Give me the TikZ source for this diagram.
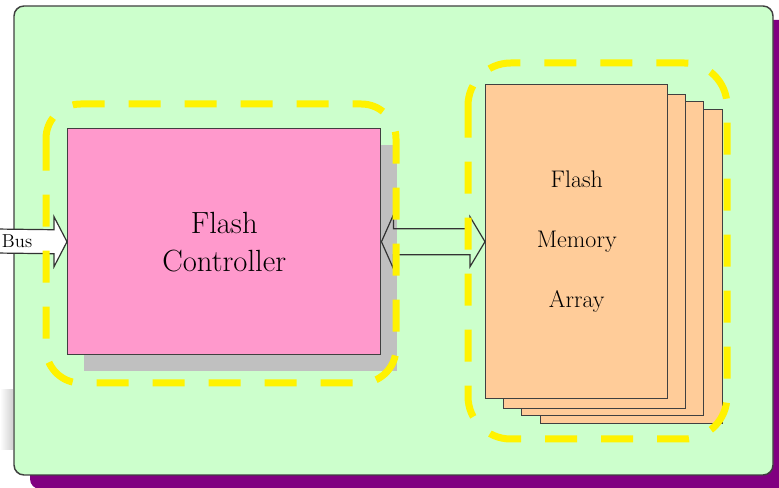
\documentclass[tikz,border=0pt]{standalone}
\usetikzlibrary{positioning,shadows}
\definecolor{panelgreen}{HTML}{CCFFCC}
\definecolor{ctrlpink}{HTML}{FF99CC}
\definecolor{memorange}{HTML}{FFCC99}
\definecolor{shadowpurple}{HTML}{800080}
\definecolor{shadowgray}{HTML}{C0C0C0}
\tikzset{box/.style = {draw=black!75, line width=1.1pt, inner sep=0pt, anchor=north west},
         memcard/.style = {box, fill=memorange, minimum width=136.5pt, minimum height=235.5pt},
         zone/.style = {draw=yellow, line width=5.25pt, dash pattern=on 24pt off 18pt},
         blockarrow/.style = {draw=black!80, line width=0.9pt, line join=miter}}

\begin{document}
\begin{tikzpicture}[x=0.75pt,y=-0.75pt]
    \clip (0,0) rectangle (779,488);
    % panel
    \shade[left color=white, right color=black!18] (0,390) rectangle (13,450);
    \draw[fill=panelgreen, draw=black!75, line width=1.1pt, rounded corners=7.5pt,
          drop shadow={shadow xshift=12pt, shadow yshift=-10.5pt, fill=shadowpurple, opacity=1}]
          (14,6) rectangle (773,475);

    % controller
    \node[box, fill=ctrlpink, minimum width=234.75pt, minimum height=169.5pt, align=center,
          font=\fontsize{23}{28.5}\selectfont,
          drop shadow={shadow xshift=12.5pt, shadow yshift=-12.5pt, fill=shadowgray, opacity=1}]
          (ctrl) at (67,128) {Flash\\Controller};

    % memory array
    \foreach \dx/\dy in {55/25, 36/17, 18/10}
        \node[memcard] at (485+\dx,84+\dy) {};
    \node[memcard, align=center, font=\fontsize{18}{45}\selectfont] (mem) at (485,84) {Flash\\Memory\\Array};

    % bus
    \coordinate (bustail) at (-5,241);
    \draw[blockarrow, fill=white] (bustail) ++(0,-12) -- ([shift={(-13,-12)}]ctrl.west)
        -- ([shift={(-13,-25)}]ctrl.west) -- (ctrl.west) -- ([shift={(-13,25)}]ctrl.west)
        -- ([shift={(-13,12)}]ctrl.west) -- ([shift={(0,12)}]bustail) -- cycle;
    \node[anchor=west, inner sep=0pt, font=\fontsize{14}{14}\selectfont] (bus) at ([xshift=5]bustail) {Bus};

    % controller <-> memory
    \draw[blockarrow] (ctrl.east) -- ([shift={(12,-27)}]ctrl.east) -- ([shift={(12,-13)}]ctrl.east)
        -- ([shift={(-15,-13)}]mem.west) -- ([shift={(-15,-25)}]mem.west) -- (mem.west)
        -- ([shift={(-15,25)}]mem.west) -- ([shift={(-15,13)}]mem.west)
        -- ([shift={(12,13)}]ctrl.east) -- ([shift={(12,27)}]ctrl.east) -- cycle;

    % dashed groups
    \draw[zone, rounded corners=26pt] (46,104) rectangle (396,383);
    \draw[zone, rounded corners=32pt] (468,63) rectangle (727,439);
\end{tikzpicture}
\end{document}
